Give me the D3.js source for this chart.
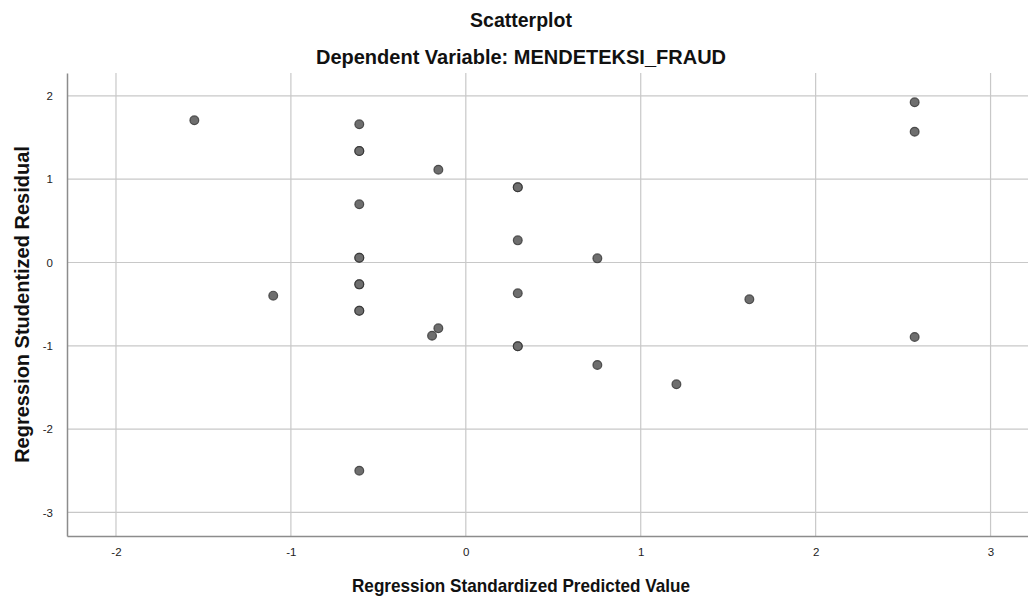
<!DOCTYPE html>
<html>
<head>
<meta charset="utf-8">
<script src="https://cdn.jsdelivr.net/npm/d3@7"></script>
<style>
  body { margin: 0; background: #fff; }
  svg { display: block; font-family: "Liberation Sans", Arial, sans-serif; }
</style>
</head>
<body>
<svg id="chart" width="1028" height="597"></svg>
<script>
// standardized predicted values (x) and studentized residuals (y)
const predicted = [
  -1.552, -0.609, -0.609, -0.609, -0.157, -0.609, -0.609, -0.609,
  -0.609, -0.609, -1.101, -0.609, -0.609, -0.157, -0.193, -0.609,
  0.297, 0.297, 0.297, 0.752, 0.297, 0.297, 0.297, 0.752,
  1.204, 1.621, 2.566, 2.566, 2.566
];
const residual = [
  1.707, 1.659, 1.338, 1.338, 1.114, 0.699, 0.058, 0.058,
  -0.262, -0.262, -0.398, -0.579, -0.579, -0.790, -0.879, -2.499,
  0.903, 0.903, 0.266, 0.050, -0.370, -1.006, -1.006, -1.230,
  -1.462, -0.442, 1.923, 1.570, -0.894
];
const xTicks = [-2, -1, 0, 1, 2, 3];
const yTicks = [-3, -2, -1, 0, 1, 2];

const chartTitle = 'Scatterplot';
const chartSubtitle = 'Dependent Variable: MENDETEKSI_FRAUD';
const xTitle = 'Regression Standardized Predicted Value';
const yTitle = 'Regression Studentized Residual';

const svg = d3.select('#chart');
const width = 1028;
const height = 597;
const margin = { top: 73, right: 0, bottom: 61, left: 67 };
const innerWidth = width - margin.left - margin.right;
const innerHeight = height - margin.top - margin.bottom;
const titleX = 521;

const grp = svg.append('g')
  .attr('transform', 'translate(' + margin.left + ',' + margin.top + ')');

const xScale = d3.scaleLinear().domain([-2.28, 3.214]).range([0, innerWidth]);
const yScale = d3.scaleLinear().domain([-3.283, 2.275]).range([innerHeight, 0]);

// grid lines
grp.append('g')
  .selectAll('line')
  .data(xTicks)
  .enter()
  .append('line')
  .attr('x1', d => xScale(d))
  .attr('x2', d => xScale(d))
  .attr('y1', 0)
  .attr('y2', innerHeight)
  .attr('stroke', '#c8c8c8')
  .attr('stroke-width', 1.2);

grp.append('g')
  .selectAll('line')
  .data(yTicks)
  .enter()
  .append('line')
  .attr('x1', 0)
  .attr('x2', innerWidth)
  .attr('y1', d => yScale(d))
  .attr('y2', d => yScale(d))
  .attr('stroke', '#c8c8c8')
  .attr('stroke-width', 1.2);

// axes
const xAxis = grp.append('g')
  .attr('transform', `translate(0,${innerHeight})`)
  .call(d3.axisBottom(xScale).tickValues(xTicks).tickSize(0).tickPadding(12));

const yAxis = grp.append('g')
  .call(d3.axisLeft(yScale).tickValues(yTicks).tickSize(0).tickPadding(14));

[xAxis, yAxis].forEach(ax => {
  ax.select('.domain').attr('stroke', '#8c8c8c').attr('stroke-width', 1.5);
  ax.selectAll('text')
    .attr('fill', '#222')
    .style('font-size', '11.5px')
    .style('font-family', '"Liberation Sans", Arial, sans-serif')
    .text(d => String(d)); // plain hyphen minus like SPSS
});

// points
grp.append('g')
  .selectAll('circle')
  .data(predicted.map((p, i) => ({ x: p, y: residual[i] })))
  .enter()
  .append('circle')
  .attr('cx', d => xScale(d.x))
  .attr('cy', d => yScale(d.y))
  .attr('r', 4.4)
  .attr('fill', '#6e6e6e')
  .attr('stroke', '#2e2e2e')
  .attr('stroke-opacity', 0.75)
  .attr('stroke-width', 1.2);

// titles
svg.append('text')
  .attr('x', titleX)
  .attr('y', 27)
  .attr('text-anchor', 'middle')
  .style('font-size', '19.5px')
  .style('font-weight', 'bold')
  .attr('fill', '#111')
  .text(chartTitle);

svg.append('text')
  .attr('x', titleX)
  .attr('y', 64)
  .attr('text-anchor', 'middle')
  .style('font-size', '20px')
  .style('font-weight', 'bold')
  .attr('fill', '#111')
  .text(chartSubtitle);

svg.append('text')
  .attr('x', titleX)
  .attr('y', 592)
  .attr('text-anchor', 'middle')
  .attr('textLength', 338)
  .attr('lengthAdjust', 'spacingAndGlyphs')
  .style('font-size', '19px')
  .style('font-weight', 'bold')
  .attr('fill', '#111')
  .text(xTitle);

svg.append('text')
  .attr('transform', 'translate(29,' + (margin.top + innerHeight / 2) + ') rotate(-90)')
  .attr('text-anchor', 'middle')
  .style('font-size', '20px')
  .style('font-weight', 'bold')
  .attr('fill', '#111')
  .text(yTitle);
</script>
</body>
</html>
